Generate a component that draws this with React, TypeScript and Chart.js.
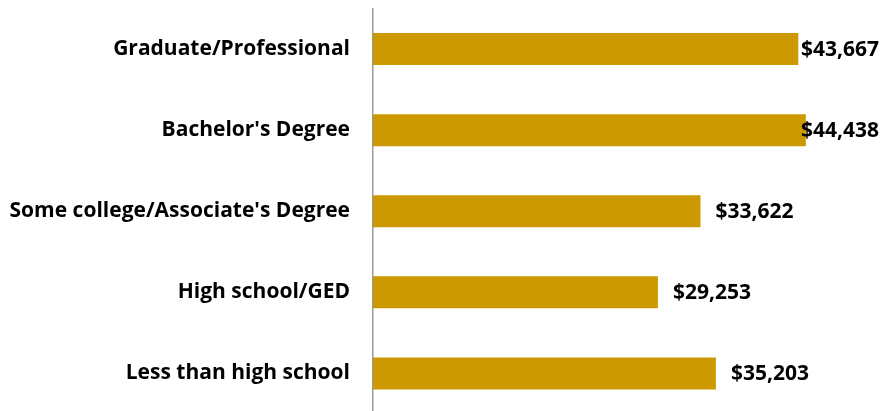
import React, { useEffect, useRef } from "react";
import { Chart, registerables } from "chart.js";

Chart.register(...registerables);

const categories = [
  "Graduate/Professional",
  "Bachelor's Degree",
  "Some college/Associate's Degree",
  "High school/GED",
  "Less than high school",
];
const values = [43667, 44438, 33622, 29253, 35203];
const valueLabels = ["$43,667", "$44,438", "$33,622", "$29,253", "$35,203"];

const FONT = "'Open Sans', sans-serif";

const labelPlugin = {
  id: "valueLabels",
  afterDatasetsDraw(chart: any) {
    const ctx = chart.ctx;
    const meta = chart.getDatasetMeta(0);
    ctx.save();
    ctx.font = `bold 21px ${FONT}`;
    ctx.fillStyle = "#000";
    ctx.textBaseline = "middle";
    ctx.textAlign = "left";
    meta.data.forEach((bar: any, i: number) => {
      const text = valueLabels[i];
      const w = ctx.measureText(text).width;
      let x = bar.x + 15;
      const maxX = 879 - w;
      if (x > maxX) x = maxX;
      ctx.fillText(text, x, bar.y + 1);
    });
    ctx.restore();
  },
};

export default function App() {
  const ref = useRef<HTMLCanvasElement>(null);
  useEffect(() => {
    document.body.style.margin = "0";
    const chart = new Chart(ref.current!, {
      type: "bar",
      data: {
        labels: categories,
        datasets: [
          {
            data: values,
            backgroundColor: "#CC9900",
            borderWidth: 0,
            categoryPercentage: 1,
            barPercentage: 0.395,
          },
        ],
      },
      options: {
        indexAxis: "y",
        animation: false,
        responsive: false,
        maintainAspectRatio: false,
        layout: { autoPadding: false, padding: { top: 8.5, right: 20, bottom: 0, left: 0 } },
        plugins: { legend: { display: false }, tooltip: { enabled: false }, title: { display: false } },
        scales: {
          x: { display: false, min: 0, max: 50000 },
          y: {
            afterFit: (s: any) => {
              s.width = 373;
              s.paddingTop = 0;
              s.paddingBottom = 0;
            },
            grid: { display: false, drawTicks: false },
            border: { display: true, color: "#999999", width: 1.5 },
            ticks: {
              padding: 23,
              color: "#000",
              font: { family: FONT, size: 21, weight: "bold" },
            },
          },
        },
      },
      plugins: [labelPlugin],
    });
    return () => chart.destroy();
  }, []);
  return (
    <div style={{ width: 880, height: 411, overflow: "hidden" }}>
      <canvas ref={ref} width={880} height={414} style={{ display: "block" }} />
    </div>
  );
}
